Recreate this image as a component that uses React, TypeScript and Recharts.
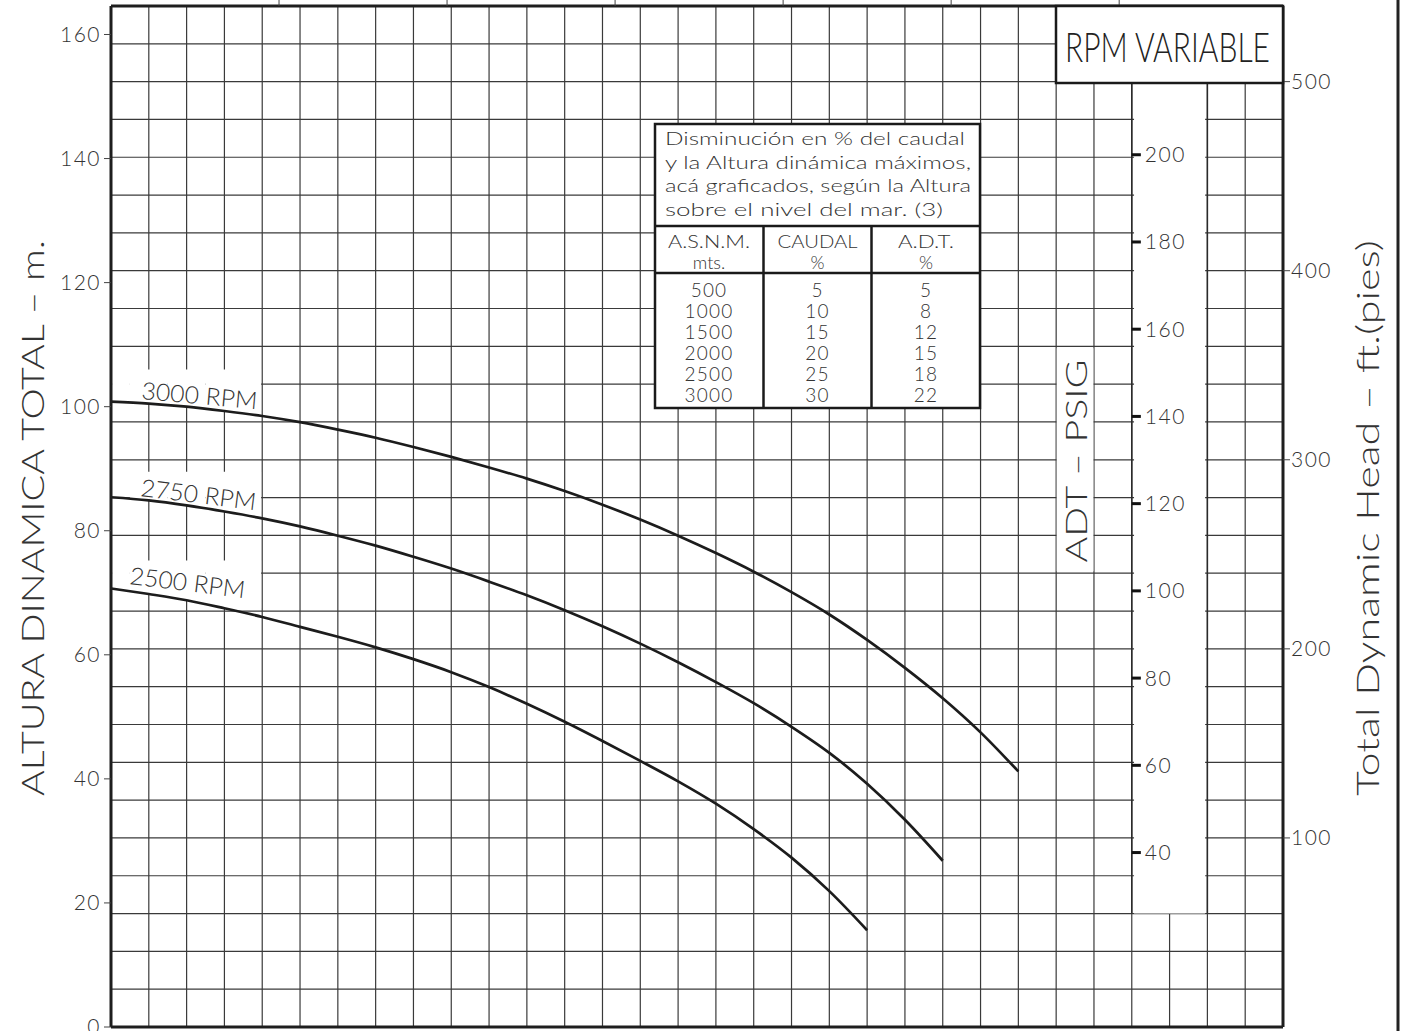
import {
  LineChart,
  Line,
  XAxis,
  YAxis,
  CartesianGrid,
  ReferenceArea,
  ReferenceLine,
} from "recharts";

// Curva de bomba a RPM variable (x en divisiones de la grilla, y en metros)
const caudalCols = [0, 1, 2, 3, 4, 5, 6, 7, 8, 9, 10, 11, 12, 13, 14, 15, 16, 17, 18, 19, 20, 21, 22, 23, 24];
const rpm3000 = [100.8, 100.5, 100.0, 99.3, 98.5, 97.5, 96.3, 95.0, 93.5, 91.9, 90.2, 88.4, 86.4, 84.2, 81.8, 79.2, 76.4, 73.4, 70.1, 66.5, 62.4, 57.9, 53.0, 47.5, 41.2];
const rpm2750 = [85.4, 84.9, 84.1, 83.1, 82.0, 80.7, 79.2, 77.6, 75.8, 73.9, 71.8, 69.6, 67.2, 64.6, 61.8, 58.8, 55.6, 52.2, 48.4, 44.2, 39.2, 33.4, 26.8];
const rpm2500 = [70.7, 69.8, 68.8, 67.5, 66.1, 64.5, 62.9, 61.2, 59.3, 57.2, 54.8, 52.1, 49.2, 46.1, 42.9, 39.6, 36.0, 31.9, 27.3, 21.9, 15.6];

// axis ticks
const mTicks = [0, 20, 40, 60, 80, 100, 120, 140, 160];
const ftTicks = [100, 200, 300, 400, 500];
const psiTicks = [40, 60, 80, 100, 120, 140, 160, 180, 200];
const topTicks = [40 / 9, 80 / 9, 120 / 9, 160 / 9, 200 / 9, 240 / 9];
const gridCols = Array.from({ length: 32 }, (_, i) => i);
const gridRowsFt = Array.from({ length: 28 }, (_, i) => i * 20);

// tabla de altura sobre el nivel del mar
const tableTitle = [
  "Disminución en % del caudal",
  "y la Altura dinámica máximos,",
  "acá graficados, según la Altura",
  "sobre el nivel del mar. (3)",
];
const asnm = [500, 1000, 1500, 2000, 2500, 3000];
const caudalPct = [5, 10, 15, 20, 25, 30];
const adtPct = [5, 8, 12, 15, 18, 22];

const FT_TOP = 540;
const M_TOP = FT_TOP / 3.28084;
const PSI_TOP = M_TOP / 0.70307;

const FONT = "Lato, 'Open Sans', 'DejaVu Sans', sans-serif";
const INK = "#333";
const GRID = "#3a3a3a";

const data = caudalCols.map((c, i) => ({
  col: c,
  r3000: rpm3000[i] ?? null,
  r2750: rpm2750[i] ?? null,
  r2500: rpm2500[i] ?? null,
}));

// white patches behind the curve labels (grid is trimmed there)
function labelMask(vals: number[], top: number) {
  return [0, 1, 2, 3].map((c) => ({
    x1: c === 0 ? 0.03 : c - 0.5,
    x2: c === 3 ? 3.97 : c + 0.5,
    y1: vals[c],
    y2: top,
  }));
}
const masks = [
  ...labelMask(rpm3000, 106),
  ...labelMask(rpm2750, 89.5),
  ...labelMask(rpm2500, 75.2),
];

const noTick = () => <g />;

function Overlay() {
  const txt = { fontFamily: FONT, fill: INK, fontWeight: 300 } as const;
  const rowY = [297, 318, 339, 360, 381, 402];
  return (
    <svg
      width={1401}
      height={1031}
      style={{ position: "absolute", left: 0, top: 0, pointerEvents: "none" }}
    >
      {/* axis titles */}
      <text {...txt} fontSize={31} textAnchor="middle" textLength={556} lengthAdjust="spacingAndGlyphs"
        transform="translate(44,518) rotate(-90)">
        ALTURA DINAMICA TOTAL  –  m.
      </text>
      <text {...txt} fontSize={31} textAnchor="middle" textLength={556} lengthAdjust="spacingAndGlyphs"
        transform="translate(1379,518) rotate(-90)">
        Total Dynamic Head  –  ft.(pies)
      </text>
      <text {...txt} fontSize={29} textAnchor="middle" textLength={203} lengthAdjust="spacingAndGlyphs"
        transform="translate(1087,461) rotate(-90)">
        ADT – PSIG
      </text>

      {/* RPM VARIABLE box */}
      <rect x={1056} y={6} width={227} height={77} fill="#fff" stroke="#1a1a1a" strokeWidth={2.5} />
      <text {...txt} fill="#222" fontSize={41} x={1065} y={62} textLength={205} lengthAdjust="spacingAndGlyphs">
        RPM VARIABLE
      </text>

      {/* curve labels */}
      <text {...txt} fontSize={24} textLength={116} lengthAdjust="spacingAndGlyphs" transform="translate(141,399) rotate(5)">
        3000 RPM
      </text>
      <text {...txt} fontSize={24} textLength={116} lengthAdjust="spacingAndGlyphs" transform="translate(140,496) rotate(7)">
        2750 RPM
      </text>
      <text {...txt} fontSize={24} textLength={116} lengthAdjust="spacingAndGlyphs" transform="translate(129,584) rotate(7)">
        2500 RPM
      </text>

      {/* altitude table */}
      <rect x={655} y={124} width={325} height={284} fill="#fff" stroke="#1a1a1a" strokeWidth={2.5} />
      <line x1={655} x2={980} y1={226} y2={226} stroke="#1a1a1a" strokeWidth={2.5} />
      <line x1={655} x2={980} y1={273} y2={273} stroke="#1a1a1a" strokeWidth={2.5} />
      <line x1={763.5} x2={763.5} y1={226} y2={408} stroke="#1a1a1a" strokeWidth={2.5} />
      <line x1={871.5} x2={871.5} y1={226} y2={408} stroke="#1a1a1a" strokeWidth={2.5} />
      {tableTitle.map((t, i) => (
        <text key={t} {...txt} fontSize={18} x={665} y={145 + i * 23.6}
          textLength={[300, 306, 306, 278][i]} lengthAdjust="spacingAndGlyphs">
          {t}
        </text>
      ))}
      <g {...txt} fontSize={18} textAnchor="middle">
        <text x={709} y={248} textLength={82} lengthAdjust="spacingAndGlyphs">A.S.N.M.</text>
        <text x={709} y={269}>mts.</text>
        <text x={817.5} y={248} textLength={80} lengthAdjust="spacingAndGlyphs">CAUDAL</text>
        <text x={817.5} y={269}>%</text>
        <text x={926} y={248} textLength={56} lengthAdjust="spacingAndGlyphs">A.D.T.</text>
        <text x={926} y={269}>%</text>
      </g>
      <g {...txt} fontSize={19} textAnchor="middle" letterSpacing={1.2}>
        {asnm.map((v, i) => (
          <text key={"a" + v} x={709} y={rowY[i]}>{v}</text>
        ))}
        {caudalPct.map((v, i) => (
          <text key={"c" + i} x={817.5} y={rowY[i]}>{v}</text>
        ))}
        {adtPct.map((v, i) => (
          <text key={"d" + i} x={926} y={rowY[i]}>{v}</text>
        ))}
      </g>

      {/* sheet edge */}
      <line x1={1398} x2={1398} y1={0} y2={1031} stroke="#222" strokeWidth={3} />
    </svg>
  );
}

export default function App() {
  const tickStyle = { fontSize: 21, fill: INK, fontFamily: FONT, fontWeight: 300, letterSpacing: 1.5 };
  const frame = { stroke: "#1e1e1e", strokeWidth: 3 };
  return (
    <div style={{ position: "absolute", left: 0, top: 0, width: 1401, height: 1031, background: "#fff" }}>
      <LineChart width={1401} height={1031} data={data} margin={{ top: 0, right: 0, bottom: 0, left: 0 }}>
        <XAxis xAxisId="top" orientation="top" dataKey="col" type="number" domain={[0, 31]} ticks={topTicks}
          interval={0} height={6} tickSize={6} tick={noTick} axisLine={frame}
          tickLine={{ stroke: "#444" }} allowDataOverflow />
        <XAxis xAxisId="bottom" dataKey="col" type="number" domain={[0, 31]} ticks={gridCols}
          interval={0} height={4} tick={noTick} tickLine={false} axisLine={frame} allowDataOverflow />
        <YAxis yAxisId="m" orientation="left" type="number" domain={[0, M_TOP]} ticks={mTicks}
          interval={0} width={111} tickSize={7} tickMargin={3} tick={tickStyle}
          axisLine={frame} tickLine={{ stroke: "#444" }} allowDataOverflow />
        <YAxis yAxisId="ft" orientation="right" type="number" domain={[0, FT_TOP]} ticks={ftTicks}
          interval={0} width={118} tickSize={7} tickMargin={1} tick={tickStyle}
          axisLine={frame} tickLine={{ stroke: "#444" }} allowDataOverflow />
        <YAxis yAxisId="grid" orientation="right" type="number" domain={[0, FT_TOP]} ticks={gridRowsFt}
          interval={0} width={0} tick={noTick} tickLine={false} axisLine={false} allowDataOverflow />
        <YAxis yAxisId="psi" type="number" domain={[0, PSI_TOP]} hide allowDataOverflow />

        <CartesianGrid xAxisId="bottom" yAxisId="grid" stroke={GRID} strokeWidth={1.2}
          verticalValues={gridCols} horizontalValues={gridRowsFt} />

        {masks.map((m, i) => (
          <ReferenceArea key={"mask" + i} xAxisId="bottom" yAxisId="m" x1={m.x1} x2={m.x2} y1={m.y1} y2={m.y2}
            fill="#fff" fillOpacity={1} stroke="none" />
        ))}
        {/* PSIG band and its title patch */}
        <ReferenceArea xAxisId="bottom" yAxisId="grid" x1={27.06} x2={28.94} y1={60} y2={500}
          fill="#fff" fillOpacity={1} stroke="none" />
        <ReferenceArea xAxisId="bottom" yAxisId="grid" x1={25.015} x2={25.985} y1={241} y2={359}
          fill="#fff" fillOpacity={1} stroke="none" />
        <ReferenceLine xAxisId="bottom" yAxisId="grid" segment={[{ x: 27, y: 60 }, { x: 27, y: 500 }]}
          stroke="#2a2a2a" strokeWidth={1.5} ifOverflow="visible" />
        <ReferenceLine xAxisId="bottom" yAxisId="grid" segment={[{ x: 29, y: 60 }, { x: 29, y: 500 }]}
          stroke="#2a2a2a" strokeWidth={1.5} ifOverflow="visible" />

        <Line xAxisId="bottom" yAxisId="m" type="monotone" dataKey="r3000" stroke="#1c1c1c" strokeWidth={2.7}
          dot={false} isAnimationActive={false} />
        <Line xAxisId="bottom" yAxisId="m" type="monotone" dataKey="r2750" stroke="#1c1c1c" strokeWidth={2.7}
          dot={false} isAnimationActive={false} />
        <Line xAxisId="bottom" yAxisId="m" type="monotone" dataKey="r2500" stroke="#1c1c1c" strokeWidth={2.7}
          dot={false} isAnimationActive={false} />

        {psiTicks.map((v) => (
          <ReferenceLine key={"psi" + v} xAxisId="bottom" yAxisId="psi"
            segment={[{ x: 27, y: v }, { x: 27.24, y: v }]}
            stroke="#111" strokeWidth={3}
            label={{ value: String(v), position: "right", offset: 4, ...tickStyle }} />
        ))}
      </LineChart>
      <Overlay />
    </div>
  );
}
